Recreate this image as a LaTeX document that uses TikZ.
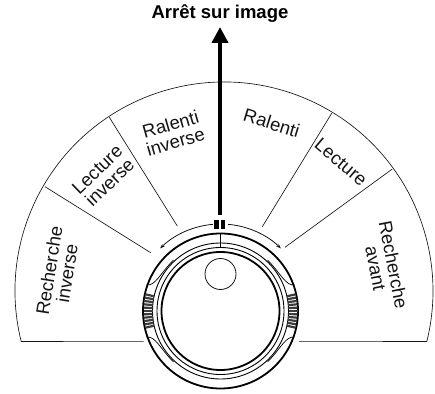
\documentclass[tikz,border=0pt]{standalone}
\usepackage{fontspec}
\setmainfont{Liberation Sans}
\usetikzlibrary{arrows.meta,calc}
\definecolor{ink}{RGB}{20,20,20}
\definecolor{grip}{RGB}{60,60,60}
\tikzset{
  lab/.style={font=\fontsize{18.5}{18}\selectfont, align=center, inner sep=0pt, text=ink},
  title/.style={font=\fontsize{18.5}{20}\selectfont\bfseries, inner sep=0pt, text=black},
  spoke/.style={draw=ink, line width=0.65pt},
  turn/.style={draw=ink, line width=0.8pt, -{Stealth[length=5pt,width=3.5pt]}},
  ringthick/.style={draw=black, line width=1.8pt},
  ringthin/.style={draw=black, line width=0.9pt},
  stem/.style={line width=4.8pt, -{Triangle[length=16pt,width=16pt]}},
}
\begin{document}
\begin{tikzpicture}[x=1pt,y=1pt]
  \useasboundingbox (0,0) rectangle (435,393);

  \coordinate (knob) at (220.5,82);
  \coordinate (fan) at (224,102);
  \coordinate (fanL) at ($(fan)+(194:209pt)$);
  \coordinate (fanR) at ($(fan)+(-14:209pt)$);
  \coordinate (baseL) at (143.5,51.4);
  \coordinate (baseR) at (299,51.4);

  \draw[spoke] (baseL) -- (fanL) arc[start angle=194, end angle=-14, radius=209pt] -- (baseR);

  \coordinate (a1) at (45,206.3);   \coordinate (b1) at (150.7,140.3);
  \coordinate (a2) at (109.3,275.7); \coordinate (b2) at (177.3,167);
  \coordinate (a3) at (331.7,279.7); \coordinate (b3) at (262.3,166.3);
  \coordinate (a4) at (392.3,224);  \coordinate (b4) at (285,145.7);
  \foreach \a/\b in {a1/b1, a2/b2, a3/b3, a4/b4}
    \draw[spoke] (\a) -- (\b);

  \draw[ringthick] (knob) circle (77.5pt);
  \draw[ringthin] (knob) circle (68pt);
  \draw[ringthin] (knob) circle (63.5pt);
  \draw[ringthick] (knob) circle (59pt);
  \node[draw=ink, line width=0.8pt, circle, minimum size=31pt, inner sep=0pt] (dot) at (220.5,119) {};

  \foreach \sx in {1,-1}
    \foreach \sy in {1,-1}
      \draw[ringthin, line width=0.7pt, shift={(knob)}, xscale=\sx, yscale=\sy]
        (-74,26) .. controls (-65,25) and (-60,38) .. (-47,51);

  \foreach \ang in {0,180}
    \foreach \i in {-12.5,-10,...,12.5}
      \draw[grip, line width=2.2pt] ($(knob)+(\ang+\i:77pt)$) -- ($(knob)+(\ang+\i:68pt)$);

  \draw[black, line width=1.3pt] (220.5,159) -- (220.5,145.5);

  \fill[black] (214.3,164) rectangle (219,173);
  \fill[black] (220.8,164) rectangle (224.5,173);
  \coordinate (gap) at (220,178);
  \coordinate (tip) at (220,366);
  \draw[stem] (gap) -- (tip);

  \draw[turn] ($(knob)+(95:87pt)$) arc[start angle=95, end angle=134, radius=87pt];
  \draw[turn] ($(knob)+(85:87pt)$) arc[start angle=85, end angle=46, radius=87pt];

  \node[title] (stop) at (220,379) {Arrêt sur image};
  \node[lab, rotate=81] (rinv) at (58,121) {Recherche\\inverse};
  \node[lab, rotate=44] (linv) at (103.5,217) {Lecture\\inverse};
  \node[lab, rotate=16] (ralinv) at (173,260) {Ralenti\\inverse};
  \node[lab, rotate=-17] (ral) at (271.7,270) {Ralenti};
  \node[lab, rotate=-40] (lec) at (341,231) {Lecture};
  \node[lab, rotate=-79] (rav) at (384.7,126.5) {Recherche\\avant};
\end{tikzpicture}
\end{document}
